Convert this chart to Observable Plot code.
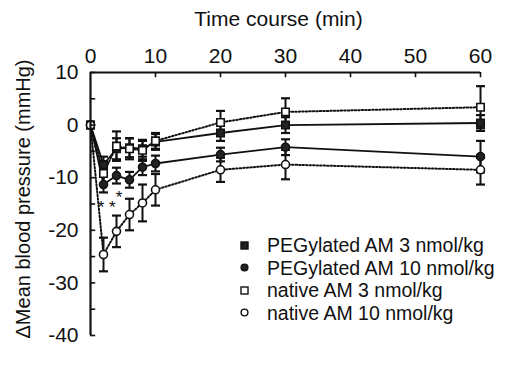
<!DOCTYPE html>
<html><head><meta charset="utf-8">
<script src="https://cdn.jsdelivr.net/npm/d3@7"></script>
<script src="https://cdn.jsdelivr.net/npm/@observablehq/plot@0.6"></script>
<style>
body{margin:0;background:#fff;font-family:"Liberation Sans",Arial,sans-serif;}
#wrap{position:relative;width:511px;height:368px;}
#legend{position:absolute;left:239px;top:234px;font-size:19.5px;line-height:22.5px;color:#111;}
#legend .row{display:flex;align-items:center;white-space:nowrap;}
#legend svg{margin-right:17px;}
</style></head><body><div id="wrap"></div>
<script>
const times = [0, 2, 4, 6, 8, 10, 20, 30, 60];
const seriesNames = ["PEGylated AM 3 nmol/kg", "PEGylated AM 10 nmol/kg", "native AM 3 nmol/kg", "native AM 10 nmol/kg"];
const peg3 = [0, -7.5, -4.5, -4.3, -4.5, -3.2, -1.5, 0, 0.4];
const peg3Err = [0, 1.5, 2, 1.8, 1.5, 1.5, 1.5, 1.5, 1.5];
const peg10 = [0, -11.3, -9.6, -10.4, -8, -7.3, -5.6, -4.2, -6];
const peg10Err = [0, 1.5, 1.5, 1.5, 1.5, 1.5, 1.3, 1.5, 3];
const nat3 = [0, -9.2, -4, -4.5, -4.8, -3, 0.5, 2.5, 3.4];
const nat3Err = [0, 2, 2.8, 2, 2, 1.5, 2.2, 2.6, 4];
const nat10 = [0, -24.6, -20.2, -17, -14.8, -12.3, -8.5, -7.5, -8.5];
const nat10Err = [0, 3.2, 3, 3, 3.5, 3, 2.3, 2.8, 2.8];
const xTicks = [0, 10, 20, 30, 40, 50, 60];
const yTicks = [10, 0, -10, -20, -30, -40];
const yMinorTicks = [10, 5, 0, -5, -10, -15, -20, -25, -30, -35, -40];
const starLabels = ["* *", "*"];
const starX = [2.5, 4.4];
const starY = [-15.0, -13.0];

const series = [
  {name: seriesNames[0], values: peg3, err: peg3Err, symbol: "square", fill: "#222", dash: null},
  {name: seriesNames[1], values: peg10, err: peg10Err, symbol: "circle", fill: "#222", dash: null},
  {name: seriesNames[2], values: nat3, err: nat3Err, symbol: "square", fill: "white", dash: "1.5,2"},
  {name: seriesNames[3], values: nat10, err: nat10Err, symbol: "circle", fill: "white", dash: "1.5,2"}
];
const rows = series.flatMap(s => times.map((t, i) => ({series: s.name, t, v: s.values[i], e: s.err[i], sym: s.symbol, fill: s.fill, dash: s.dash})));
const errRows = rows.filter(d => d.e > 0);
const cap = {draw(ctx, size) { const w = 4.5; ctx.moveTo(-w, 0); ctx.lineTo(w, 0); }};

const marks = [];
for (const s of series) {
  const data = rows.filter(d => d.series === s.name);
  marks.push(Plot.line(data, {x: "t", y: "v", stroke: "#111", strokeWidth: s.dash ? 2 : 1.8, strokeDasharray: s.dash}));
}
marks.push(
  Plot.link(errRows, {x1: "t", x2: "t", y1: d => d.v - d.e, y2: d => d.v + d.e, stroke: "#111", strokeWidth: 2}),
  Plot.dot(errRows, {x: "t", y: d => d.v + d.e, symbol: cap, stroke: "#111", strokeWidth: 2.2, r: 3}),
  Plot.dot(errRows, {x: "t", y: d => d.v - d.e, symbol: cap, stroke: "#111", strokeWidth: 2.2, r: 3}),
  Plot.dot(rows.filter(d => d.sym === "square"), {x: "t", y: "v", symbol: "square", r: 4.2, fill: "fill", stroke: "#111", strokeWidth: 1.6}),
  Plot.dot(rows.filter(d => d.sym === "circle"), {x: "t", y: "v", symbol: "circle", r: 4, fill: "fill", stroke: "#111", strokeWidth: 1.6}),
  Plot.ruleY([10], {x1: 0, x2: 60, stroke: "#111", strokeWidth: 2}),
  Plot.ruleX([0], {y1: -40, y2: 10, stroke: "#111", strokeWidth: 2.2}),
  Plot.ruleX(xTicks.slice(1), {x: d => d, y1: 10, y2: 9, stroke: "#111", strokeWidth: 1.6}),
  Plot.ruleY(yMinorTicks, {y: d => d, x1: 0, x2: 0.8, stroke: "#111", strokeWidth: 1.6}),
  Plot.text(starLabels, {x: (d, i) => starX[i], y: (d, i) => starY[i], text: d => d, fontSize: 17, fill: "#111", dy: 4}),
  Plot.axisX(xTicks, {anchor: "top", tickSize: 0, tickPadding: 10, fontSize: 21, label: null}),
  Plot.axisY(yTicks, {anchor: "left", tickSize: 0, tickPadding: 12, fontSize: 21, label: null, tickFormat: d => String(d)}),
  Plot.text(["Time course (min)"], {frameAnchor: "top", dx: -7, dy: -61, fontSize: 21, fill: "#111", text: d => d}),
  Plot.text(["\u0394Mean blood pressure (mmHg)"], {frameAnchor: "left", textAnchor: "middle", dx: -67, dy: -5, rotate: -90, fontSize: 20, fill: "#111", text: d => d})
);

const chart = Plot.plot({
  width: 511, height: 368,
  marginTop: 72, marginLeft: 90, marginRight: 31, marginBottom: 33,
  x: {domain: [0, 60]},
  y: {domain: [-40, 10]},
  style: {fontFamily: "'Liberation Sans', Arial, sans-serif", color: "#111", background: "white"},
  marks
});
const wrap = document.getElementById("wrap");
wrap.appendChild(chart);

const legend = document.createElement("div");
legend.id = "legend";
series.forEach(s => {
  const row = document.createElement("div");
  row.className = "row";
  const shape = s.symbol === "square"
    ? `<rect x="2" y="2" width="7" height="7" fill="${s.fill}" stroke="#111" stroke-width="1.4"/>`
    : `<circle cx="5.5" cy="5.5" r="3.4" fill="${s.fill}" stroke="#111" stroke-width="1.4"/>`;
  row.innerHTML = `<svg width="11" height="11">${shape}</svg><span>${s.name}</span>`;
  legend.appendChild(row);
});
wrap.appendChild(legend);
</script></body></html>
